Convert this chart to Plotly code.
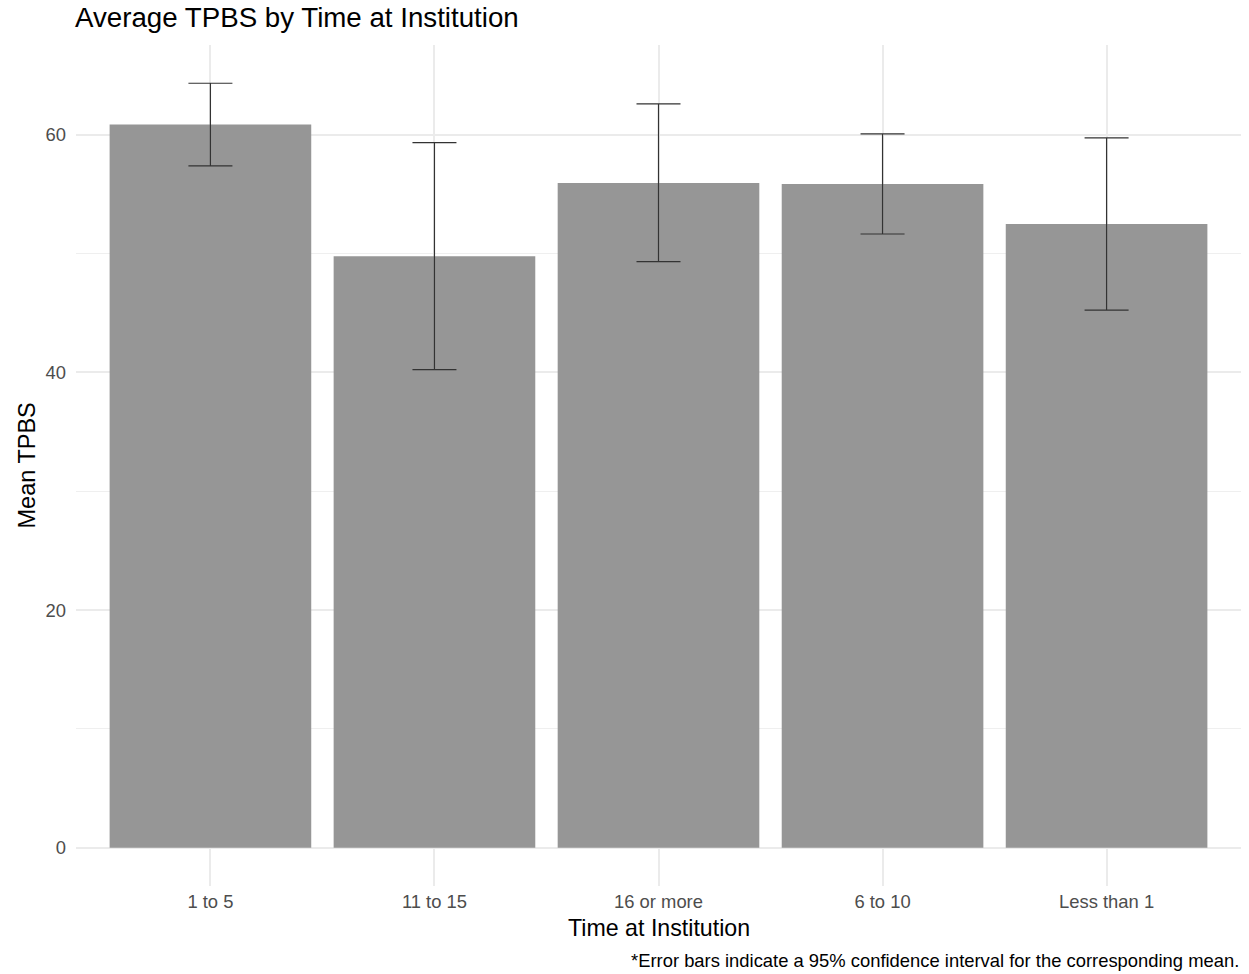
import plotly.graph_objects as go

# Mean TPBS by time at institution, with 95% confidence limits
categories = ["1 to 5", "11 to 15", "16 or more", "6 to 10", "Less than 1"]
mean_tpbs = [60.86, 49.77, 55.95, 55.87, 52.50]
ci_lower = [57.38, 40.23, 49.32, 51.65, 45.25]
ci_upper = [64.34, 59.34, 62.60, 60.08, 59.74]
y_ticks = [0, 20, 40, 60]

err_plus = [u - m for u, m in zip(ci_upper, mean_tpbs)]
err_minus = [m - l for m, l in zip(mean_tpbs, ci_lower)]

FONT = "Liberation Sans, Arial, Helvetica, sans-serif"
GRID = "#EBEBEB"

fig = go.Figure()
fig.add_trace(go.Bar(
    x=categories,
    y=mean_tpbs,
    width=0.9,
    marker=dict(color="#969696", line=dict(width=0)),
    error_y=dict(
        type="data",
        symmetric=False,
        array=err_plus,
        arrayminus=err_minus,
        color="#333333",
        thickness=1.2,
        width=22,
    ),
    showlegend=False,
))

ymax = max(ci_upper)
pad = ymax * 0.05

fig.update_layout(
    width=1249,
    height=974,
    paper_bgcolor="white",
    plot_bgcolor="white",
    margin=dict(l=76, r=8, t=45, b=88),
    font=dict(family=FONT, color="#4D4D4D", size=18),
    bargap=0.1,
    xaxis=dict(
        type="category",
        range=[-0.6, len(categories) - 0.4],
        showgrid=True,
        gridcolor=GRID,
        gridwidth=1.5,
        zeroline=False,
        showline=False,
        ticks="",
        tickfont=dict(size=18.4, color="#4D4D4D"),
        ticklabelstandoff=3,
    ),
    yaxis=dict(
        range=[-pad, ymax + pad],
        tickvals=y_ticks,
        showgrid=True,
        gridcolor=GRID,
        gridwidth=1.5,
        zeroline=False,
        showline=False,
        ticks="",
        tickfont=dict(size=18.4, color="#4D4D4D"),
        ticklabelstandoff=9,
        minor=dict(tickvals=[10, 30, 50], showgrid=True, gridcolor="#EFEFEF", gridwidth=1),
    ),
    annotations=[
        dict(text="Average TPBS by Time at Institution", xref="paper", yref="paper",
             x=0, y=1, xanchor="left", yanchor="bottom", yshift=10, xshift=-3, showarrow=False,
             font=dict(size=27.7, color="black", family=FONT)),
        dict(text="Time at Institution", xref="paper", yref="paper",
             x=0.5, y=0, xanchor="center", yanchor="middle", yshift=-42, showarrow=False,
             font=dict(size=23.2, color="black", family=FONT)),
        dict(text="Mean TPBS", xref="paper", yref="paper",
             x=0, y=0.5, xanchor="center", yanchor="middle", xshift=-50, textangle=-90,
             showarrow=False, font=dict(size=23.5, color="black", family=FONT)),
        dict(text="*Error bars indicate a 95% confidence interval for the corresponding mean.",
             xref="paper", yref="paper", x=1, y=0, xanchor="right", yanchor="middle",
             yshift=-74, showarrow=False, font=dict(size=18.4, color="black", family=FONT)),
    ],
)

fig.write_html("out.html")
